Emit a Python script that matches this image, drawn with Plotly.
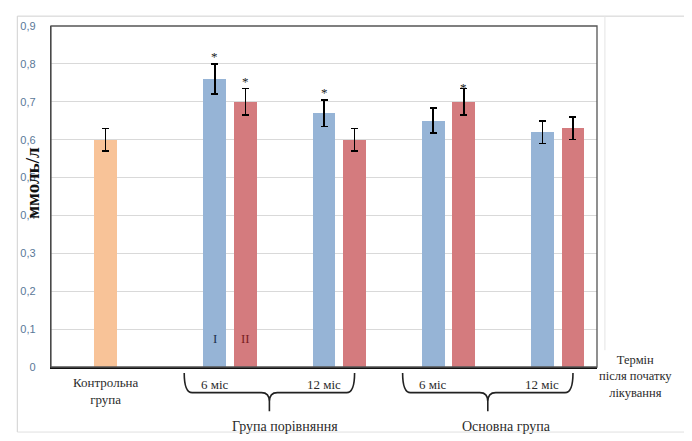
import plotly.graph_objects as go

# ---- data ----
control_x = [0]
control_vals = [0.60]
control_err = [0.03]

period_x = [1, 2, 3, 4]
series_I_vals = [0.76, 0.67, 0.65, 0.62]
series_I_err = [0.04, 0.035, 0.033, 0.03]
series_II_vals = [0.70, 0.60, 0.70, 0.63]
series_II_err = [0.035, 0.03, 0.035, 0.03]
series_I_signif = [True, True, False, False]
series_II_signif = [True, False, True, False]

period_labels = ["6 міс", "12 міс", "6 міс", "12 міс"]
control_label = "Контрольна<br>група"
group_labels = ["Група порівняння", "Основна група"]
group_members = [[1, 2], [3, 4]]

y_ticks = [0, 0.1, 0.2, 0.3, 0.4, 0.5, 0.6, 0.7, 0.8, 0.9]
y_ticktext = ["0", "0,1", "0,2", "0,3", "0,4", "0,5", "0,6", "0,7", "0,8", "0,9"]

# ---- style ----
# page body has an 8px margin, so the figure is sized/positioned to compensate
OFF = 8
W, H = 692 - OFF, 441 - OFF
ML, MT = 46 - OFF, 21 - OFF
PW = 597 - 46
PH = 367 - 21
MR = W - ML - PW
MB = H - MT - PH
BAR_W = 0.21
RED_SHIFT = 0.28
C_ORANGE = "#F8C398"
C_BLUE = "#96B4D6"
C_RED = "#D47B7E"
SERIF = "Liberation Serif, Times New Roman, DejaVu Serif, serif"
TXT = "#2b2b2b"


def below(py):
    # window pixel row -> paper y (plot bottom at window row 367)
    return (367 - py) / PH


def px_to_x(dx):
    return dx * 5.0 / PW


def win_x(px):
    return (px - 46) / PW


err_style = dict(type="data", visible=True, color="black", thickness=1.6, width=3.5)

fig = go.Figure()
fig.add_trace(go.Bar(
    x=control_x, y=control_vals, width=BAR_W, offset=-BAR_W / 2,
    marker=dict(color=C_ORANGE, line=dict(width=0)),
    error_y=dict(array=control_err, **err_style), showlegend=False))
fig.add_trace(go.Bar(
    x=period_x, y=series_I_vals, width=BAR_W, offset=-BAR_W / 2,
    marker=dict(color=C_BLUE, line=dict(width=0)),
    error_y=dict(array=series_I_err, **err_style), showlegend=False))
fig.add_trace(go.Bar(
    x=period_x, y=series_II_vals, width=BAR_W, offset=RED_SHIFT - BAR_W / 2,
    marker=dict(color=C_RED, line=dict(width=0)),
    error_y=dict(array=series_II_err, **err_style), showlegend=False))

STAR_FONT = dict(family=SERIF, size=13, color="#1a1a1a")
ann = []
for x, v, e, s in zip(period_x, series_I_vals, series_I_err, series_I_signif):
    if s:
        ann.append(dict(x=x, y=v + e, yshift=7, text="*", showarrow=False, font=STAR_FONT))
for x, v, e, s in zip(period_x, series_II_vals, series_II_err, series_II_signif):
    if s:
        ann.append(dict(x=x + RED_SHIFT, y=v + e, yshift=7 if x != 3 else 1, text="*",
                        showarrow=False, font=STAR_FONT))
# I / II markers inside the first pair
ann.append(dict(x=period_x[0], y=0.075, text="I", showarrow=False,
                font=dict(family=SERIF, size=13, color="#1f2f4a")))
ann.append(dict(x=period_x[0] + RED_SHIFT, y=0.075, text="II", showarrow=False,
                font=dict(family=SERIF, size=13, color="#7a1e22")))
# x labels
LAB_FONT = dict(family=SERIF, size=13, color=TXT)
ann.append(dict(x=control_x[0], y=below(391), yref="paper", yanchor="middle", xanchor="center",
                text=control_label, showarrow=False, font=LAB_FONT))
for x, lab in zip(period_x, period_labels):
    ann.append(dict(x=x, y=below(385), yref="paper", yanchor="middle", xanchor="center",
                    text=lab, showarrow=False, font=LAB_FONT))
# group labels
group_text_shift = [0.0, 0.03]
for members, lab, sh in zip(group_members, group_labels, group_text_shift):
    mid = (members[0] + members[-1] + RED_SHIFT) / 2
    ann.append(dict(x=mid + sh, y=below(427), yref="paper", yanchor="middle", xanchor="center",
                    text=lab, showarrow=False, font=dict(family=SERIF, size=14, color=TXT)))
# axis-end caption
ann.append(dict(x=win_x(636), xref="paper", y=below(377), yref="paper",
                yanchor="middle", xanchor="center",
                text="Термін<br>після початку<br>лікування", showarrow=False,
                font=dict(family=SERIF, size=12.5, color=TXT)))
# y-axis title overlapping the tick labels
ann.append(dict(x=win_x(28), xref="paper", y=below(180), yref="paper", yanchor="middle",
                xanchor="center", text="<b>ммоль/л</b>", textangle=-90, showarrow=False,
                font=dict(family=SERIF, size=19, color="#111")))

shapes = []
# braces under the groups
for members in group_members:
    left = members[0] - 0.28
    right = members[-1] + RED_SHIFT
    mid = (left + right) / 2
    d = px_to_x(8)
    y0, y1, y2, y3 = below(373), below(393), below(402), below(412)
    path = (f"M{left},{y0} Q{left},{y1} {left + d},{y1} L{mid - d},{y1} "
            f"Q{mid},{y1} {mid},{y2} L{mid},{y3} M{mid},{y2} Q{mid},{y1} {mid + d},{y1} "
            f"L{right - d},{y1} Q{right},{y1} {right},{y0}")
    shapes.append(dict(type="path", xref="x", yref="paper", path=path,
                       line=dict(color="#222", width=1.6)))
# outer chart frame (light)
fx0, fx1, fy0, fy1 = win_x(12), win_x(605), below(11), below(433)
shapes.append(dict(type="line", xref="paper", yref="paper", x0=fx0, x1=1.3, y0=fy0, y1=fy0,
                   line=dict(color="#d0d0d0", width=1)))
shapes.append(dict(type="line", xref="paper", yref="paper", x0=fx0, x1=fx0, y0=fy0, y1=fy1,
                   line=dict(color="#d0d0d0", width=1)))
shapes.append(dict(type="line", xref="paper", yref="paper", x0=fx1, x1=fx1, y0=fy0, y1=below(350),
                   line=dict(color="#e4e4e4", width=1)))
shapes.append(dict(type="line", xref="paper", yref="paper", x0=fx0, x1=1.3, y0=fy1, y1=fy1,
                   line=dict(color="#e0e0e0", width=1)))
# plot-area frame
shapes.append(dict(type="rect", xref="paper", yref="paper", x0=0, x1=1, y0=0, y1=1,
                   line=dict(color="#555", width=1.3), layer="above"))

fig.update_layout(
    width=W, height=H,
    margin=dict(l=ML, r=MR, t=MT, b=MB, pad=0),
    paper_bgcolor="white", plot_bgcolor="white",
    barmode="overlay", bargap=0,
    showlegend=False,
    xaxis=dict(range=[-0.5, 4.5], showticklabels=False, showgrid=False, zeroline=False,
               showline=True, linecolor="#111", linewidth=1.8, ticks=""),
    yaxis=dict(range=[0, 0.9], tickvals=y_ticks, ticktext=y_ticktext,
               showgrid=True, gridcolor="#d9d9d9", gridwidth=1.2, zeroline=False,
               showline=True, linecolor="#333", linewidth=1.3, ticks="",
               tickfont=dict(family="Liberation Sans", size=11, color="#5a7898"),
               ticklabelstandoff=12),
    annotations=ann, shapes=shapes,
)

fig.write_html("out.html")
